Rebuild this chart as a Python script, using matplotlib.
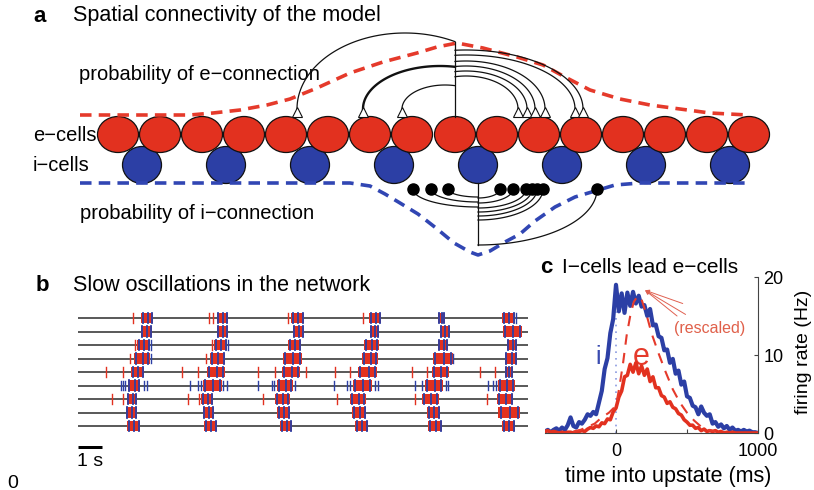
import numpy as np
import matplotlib
matplotlib.use("Agg")
import matplotlib.pyplot as plt
from matplotlib.patches import Ellipse, Rectangle

plt.rcParams['font.family'] = ['Liberation Sans', 'DejaVu Sans']

# ======================= DATA =======================
# ---- panel a : schematic network (figure-pixel coordinates) ----
e_cells_x = [118, 160, 202, 244, 286, 328, 370, 412, 455, 497, 539, 581, 623, 665, 707, 749]
i_cells_x = [142, 226, 310, 394, 478, 562, 646, 730]
e_source = 455
i_source = 478
# e-connections: (target x, arc centre x, arc peak y)
e_links = [(297, 405, 33), (363, 440, 66), (402, 445, 85),
           (518, 466, 76), (527, 466, 71), (535, 466, 66),
           (545, 466, 61), (575, 466, 55), (583, 466, 50)]
# i-connections: (target x, depth y of the arc)
i_links = [(413, 207), (431, 202), (448, 197), (500, 198), (513, 203),
           (526, 208), (532, 212), (537, 216), (543, 220), (597, 245)]
# probability profiles
e_prob_x = [80, 190, 213, 240, 267, 290, 317, 350, 383, 417, 437, 457, 483, 517, 543,
            565, 590, 620, 650, 680, 710, 748]
e_prob_y = [115, 115, 113, 110, 105, 99, 88, 73, 62, 53, 47, 43, 48, 57, 65,
            77, 90, 99, 105, 109, 113, 115]
i_prob_x = [80, 350, 370, 385, 400, 418, 436, 454, 470, 478, 490, 505, 520, 535, 555,
            575, 595, 615, 640, 748]
i_prob_y = [183, 183, 186, 194, 203, 214, 228, 243, 252, 255, 251, 242, 234, 221, 207,
            197, 191, 185, 183, 183]

# ---- panel b : raster (seconds) ----
bursts = [
    [(2.63, 3.13), (5.79, 6.25), (8.88, 9.42), (12.13, 12.63), (15.00, 15.29), (17.67, 18.21)],
    [(2.63, 3.08), (5.79, 6.25), (8.96, 9.42), (12.17, 12.54), (15.08, 15.50), (17.71, 18.50)],
    [(2.46, 3.00), (5.67, 6.21), (8.75, 9.29), (11.92, 12.54), (15.00, 15.42), (17.88, 18.29)],
    [(2.33, 3.00), (5.50, 6.13), (8.54, 9.33), (11.83, 12.50), (14.79, 15.63), (17.79, 18.29)],
    [(2.21, 2.75), (5.38, 6.13), (8.50, 9.25), (11.67, 12.46), (14.75, 15.46), (17.79, 18.13)],
    [(2.08, 2.58), (5.21, 6.00), (8.29, 8.96), (11.46, 12.25), (14.46, 15.21), (17.50, 18.21)],
    [(2.04, 2.46), (5.13, 5.63), (8.21, 8.83), (11.33, 12.00), (14.33, 15.04), (17.46, 18.13)],
    [(2.00, 2.46), (5.21, 5.67), (8.29, 8.83), (11.42, 12.00), (14.54, 15.08), (17.50, 18.42)],
    [(2.04, 2.58), (5.25, 5.79), (8.42, 8.92), (11.54, 12.08), (14.58, 15.17), (17.67, 18.21)],
]
red_single = [
    [2.29, 5.46, 5.63, 8.75, 11.88],
    [],
    [2.38, 5.58],
    [2.17, 5.33],
    [1.17, 1.88, 4.33, 5.00, 7.50, 8.21, 9.50, 10.71, 11.33, 13.92, 14.54, 16.75, 17.38],
    [],
    [1.42, 1.88, 4.58, 5.04, 7.71, 10.79, 14.04, 17.04],
    [],
    [],
]
blue_single = [
    [18.25],
    [],
    [3.04, 6.25],
    [3.04, 15.63],
    [],
    [1.79, 1.88, 1.96, 2.75, 2.88, 4.67, 5.00, 5.13, 6.04, 6.21, 7.50, 8.08, 8.17, 9.04,
     10.67, 11.21, 11.33, 12.38, 12.50, 14.04, 14.33, 15.33, 15.42, 17.08, 17.29, 17.42],
    [],
    [],
    [],
]
burst_blue_frac = [0.12, 0.55, 0.9]

# ---- panel c : firing rates ----
t_ms = list(range(-500, 1001, 20))
i_rate = [0.2, 0.4, 0.1, 0.4, 0.6, 0.3, 0.7, 0.4, 1.0, 2.0,
          0.9, 0.7, 1.4, 1.2, 1.7, 2.4, 2.2, 2.7, 2.4, 3.9,
          5.4, 8.2, 9.6, 12.8, 14.6, 19.0, 15.6, 17.9, 15.4, 18.0,
          16.3, 18.1, 16.6, 17.6, 16.2, 16.4, 15.0, 15.9, 13.8, 13.9,
          12.4, 12.2, 10.6, 10.7, 9.0, 9.5, 7.6, 8.0, 6.2, 6.6,
          4.7, 4.5, 3.5, 3.3, 2.4, 3.4, 2.6, 2.2, 2.4, 1.2,
          1.4, 0.8, 1.1, 0.6, 0.9, 0.4, 0.7, 0.3, 0.4, 0.2,
          0.4, 0.2, 0.3, 0.1, 0.1, 0.0]
e_rate = [0.2, 0.3, 0.1, 0.2, 0.1, 0.0, 0.1, 0.0, 0.1, 0.1,
          0.0, 0.1, 0.2, 0.3, 0.2, 0.5, 0.7, 0.6, 0.9, 0.8,
          1.3, 1.2, 1.8, 1.7, 2.7, 3.2, 4.6, 5.4, 7.2, 7.4,
          8.8, 7.8, 9.0, 7.6, 8.6, 7.4, 8.2, 6.6, 7.2, 5.8,
          5.8, 4.8, 4.6, 3.8, 4.0, 3.3, 3.1, 2.5, 2.3, 1.7,
          1.4, 1.0, 1.0, 0.6, 0.7, 0.3, 0.5, 0.2, 0.3, 0.2,
          0.3, 0.1, 0.2, 0.0, 0.1, 0.0, 0.1, 0.0, 0.0, 0.0,
          0.0, 0.0, 0.0, 0.0, 0.0, 0.0]
t_resc = [-300, -250, -200, -150, -100, -50, 0, 25, 50, 75, 100, 125, 150, 175, 200, 225,
          250, 275, 300, 350, 400, 450, 500, 550, 600, 650, 700]
e_rescaled = [0.2, 0.4, 0.8, 1.2, 2.0, 2.6, 3.5, 6.0, 9.0, 12.5, 15.0, 16.8, 17.5, 17.4,
              16.0, 14.5, 12.8, 11.5, 10.2, 7.8, 5.6, 3.9, 2.6, 1.6, 0.8, 0.4, 0.2]

# ======================= FIGURE =======================
W, H = 814, 490
RED = '#e2311f'
BLUE = '#2c3fa5'
DRED = '#e53a2b'
DBLUE = '#3146b3'
PX = 0.72  # points per pixel

fig = plt.figure(figsize=(W / 100, H / 100), dpi=100)
cv = fig.add_axes([0, 0, 1, 1])
cv.set_xlim(0, W)
cv.set_ylim(H, 0)
cv.axis('off')

# ---------- panel a ----------
for x in i_cells_x:
    cv.add_patch(Ellipse((x, 165), 39, 37, facecolor=BLUE, edgecolor='#111111', lw=0.9, zorder=1))
for x in e_cells_x:
    cv.add_patch(Ellipse((x, 134.5), 41, 36, facecolor=RED, edgecolor='#111111', lw=0.9, zorder=2))

cv.plot(e_prob_x, e_prob_y, color=DRED, lw=3.6 * PX, dashes=(3.2, 2.0), zorder=3,
        dash_capstyle='butt')
cv.plot(i_prob_x, i_prob_y, color=DBLUE, lw=3.6 * PX, dashes=(3.2, 2.0), zorder=3,
        dash_capstyle='butt')


def arc(cx, base_y, x_from, x_to, b, sign):
    a = abs(x_to - cx)
    th0 = np.arccos(np.clip((x_from - cx) / a, -1, 1))
    th1 = 0.0 if x_to > cx else np.pi
    th = np.linspace(th0, th1, 80)
    return cx + a * np.cos(th), base_y - sign * b * np.sin(th)


tri_y = 112
tops = []
for xt, cx, peak in e_links:
    lw = 1.7 if xt == 363 else 0.9
    xs, ys = arc(cx, tri_y - 3, e_source, xt, tri_y - 3 - peak, 1)
    cv.plot(xs, ys, color='#111111', lw=lw, zorder=4)
    tops.append(ys[0])
cv.plot([e_source, e_source], [117, min(tops)], color='#111111', lw=0.9, zorder=4)
cv.plot([t[0] for t in e_links], [tri_y] * len(e_links), ls='none', marker='^', ms=7.5,
        mfc='white', mec='#111111', mew=0.8, zorder=5)

bottoms = []
for xt, depth in i_links:
    xs, ys = arc(i_source, 189, i_source, xt, depth - 189, -1)
    cv.plot(xs, ys, color='#111111', lw=0.9, zorder=4)
    bottoms.append(depth)
cv.plot([i_source, i_source], [183, max(bottoms)], color='#111111', lw=0.9, zorder=4)
cv.plot([t[0] for t in i_links], [189] * len(i_links), ls='none', marker='o', ms=8,
        mfc='black', mec='black', zorder=5)

cv.text(33, 17, 'a', fontsize=16, fontweight='bold', va='center', ha='left')
cv.text(73, 15, 'Spatial connectivity of the model', fontsize=15.5, va='center', ha='left')
cv.text(79, 75, 'probability of e\u2212connection', fontsize=14.5, va='center', ha='left')
cv.text(33, 135, 'e\u2212cells', fontsize=14.5, va='center', ha='left')
cv.text(33, 165, 'i\u2212cells', fontsize=14.5, va='center', ha='left')
cv.text(80, 213, 'probability of i\u2212connection', fontsize=14.5, va='center', ha='left')

# ---------- panel b ----------
cv.text(36, 285, 'b', fontsize=16, fontweight='bold', va='center', ha='left')
cv.text(73, 285, 'Slow oscillations in the network', fontsize=15.5, va='center', ha='left')

row_h = 13.5
axb = fig.add_axes([78 / W, 1 - (311.25 + 9 * row_h) / H, (528 - 78) / W, 9 * row_h / H])
axb.set_xlim(0, 18.75)
axb.set_ylim(8.5, -0.5)
axb.axis('off')
for r in range(9):
    axb.plot([0, 18.75], [r, r], color='#2b2b2b', lw=1.1, zorder=1)
    for s, e in bursts[r]:
        axb.add_patch(Rectangle((s, r - 0.4), e - s, 0.8, facecolor=RED,
                                edgecolor='none', zorder=2))
        for f in burst_blue_frac:
            axb.plot([s + f * (e - s)] * 2, [r - 0.4, r + 0.4], color=BLUE, lw=1.3, zorder=3)
    for t in red_single[r]:
        axb.plot([t, t], [r - 0.36, r + 0.36], color=RED, lw=1.0, zorder=3)
    for t in blue_single[r]:
        axb.plot([t, t], [r - 0.36, r + 0.36], color=BLUE, lw=1.0, zorder=3)
axb.plot([0, 1], [9.56, 9.56], color='black', lw=3 * PX, clip_on=False,
         solid_capstyle='butt')
cv.text(90, 461, '1 s', fontsize=14, va='center', ha='center')

# ---------- panel c ----------
x0, x1, y0, y1 = 545, 758, 433, 277
axc = fig.add_axes([x0 / W, 1 - y0 / H, (x1 - x0) / W, (y0 - y1) / H])
axc.set_xlim(-500, 1000)
axc.set_ylim(0, 20)
axc.plot([0, 0], [0, 19.5], color='#8a9ae0', lw=1.2, ls=(0, (1, 3)), zorder=1)
axc.plot(t_ms, i_rate, color=BLUE, lw=3.0, zorder=3, solid_joinstyle='round')
axc.plot(t_ms, e_rate, color=RED, lw=2.6, zorder=4, solid_joinstyle='round')
axc.plot(t_resc, e_rescaled, color=DRED, lw=1.5, ls=(0, (5, 4)), zorder=5)
for spine in ('left', 'top'):
    axc.spines[spine].set_visible(False)
for spine in ('right', 'bottom'):
    axc.spines[spine].set_color('#444444')
    axc.spines[spine].set_linewidth(0.8)
axc.yaxis.tick_right()
axc.set_xticks([0, 500, 1000])
axc.set_xticklabels(['0', '', '1000'])
axc.set_yticks([0, 10, 20])
axc.tick_params(axis='both', direction='in', length=3, width=0.8, labelsize=13,
                colors='#444444', labelcolor='black')
axc.tick_params(axis='x', pad=7)
axc.tick_params(axis='y', pad=4)
axc.set_facecolor('none')

axc.text(-127, 9.7, 'i', color='#3a4bb0', fontsize=18, ha='center', va='center')
axc.text(176, 9.7, 'e', color=DRED, fontsize=22, ha='center', va='center')
axc.text(660, 13.4, '(rescaled)', color='#e0604a', fontsize=11.5, ha='center', va='center')
for xe, ye in [(490, 15.2), (430, 15.0), (470, 16.6)]:
    axc.annotate('', xy=(205, 18.3), xytext=(xe, ye),
                 arrowprops=dict(arrowstyle='-|>', color='#e06050', lw=0.7,
                                 mutation_scale=6, shrinkA=0, shrinkB=0))

cv.text(540, 267, 'c', fontsize=16, fontweight='bold', va='center', ha='left')
cv.text(562, 267, 'I\u2212cells lead e\u2212cells', fontsize=15, va='center', ha='left')
cv.text(803, 352, 'firing rate (Hz)', fontsize=14, va='center', ha='center', rotation=90)
cv.text(668, 476, 'time into upstate (ms)', fontsize=15.5, va='center', ha='center')
cv.text(13, 483, '0', fontsize=14, va='center', ha='center')

fig.savefig('out.png', dpi=100)
